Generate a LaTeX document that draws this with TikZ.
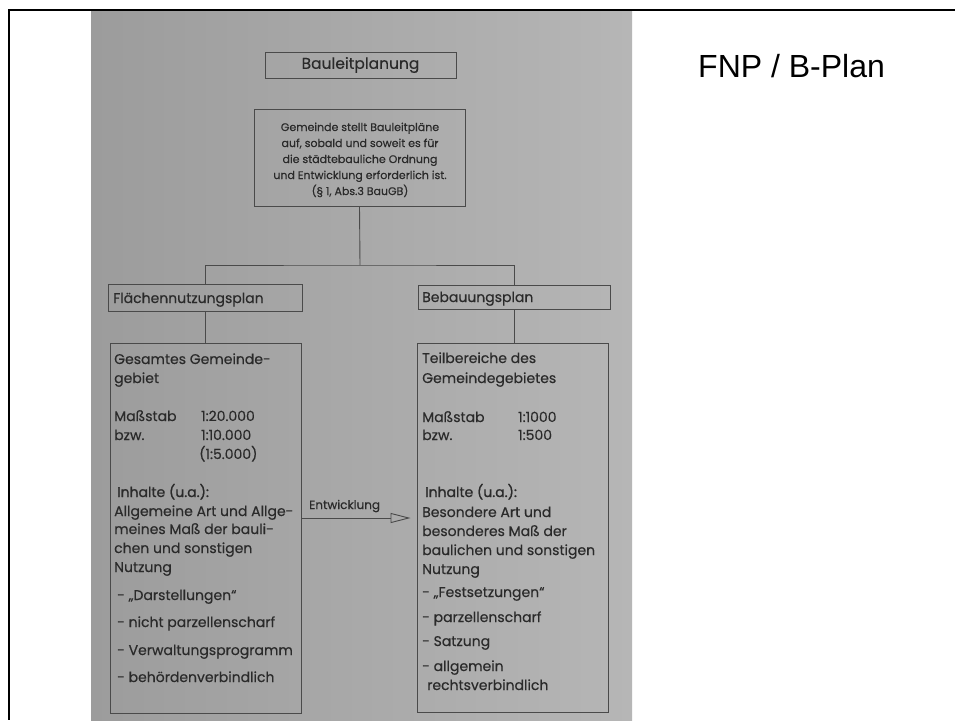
\documentclass[tikz,border=0pt]{standalone}
\usepackage{fontspec}
\setmainfont{Poppins}[FakeBold=0.4]
\newfontfamily\inhfont{Poppins}[FakeBold=1.2]
\newfontfamily\slidefont{Liberation Sans}
\usetikzlibrary{arrows.meta,calc}
\definecolor{ink}{HTML}{2A2A2A}
\definecolor{rule}{HTML}{4A4A4A}
\definecolor{photoL}{HTML}{9C9C9C}
\definecolor{photoM}{HTML}{BEBEBE}
\definecolor{photoR}{HTML}{B6B6B6}
\tikzset{
  box/.style={draw=rule, line width=0.9pt, inner sep=0pt},
  conn/.style={draw=rule, line width=0.9pt},
  txt/.style={anchor=base west, inner sep=0pt, text=ink, font=\fontsize{14}{19}\selectfont},
  smalltxt/.style={anchor=base, inner sep=0pt, text=ink, font=\fontsize{11}{16}\selectfont},
}
\begin{document}
\begin{tikzpicture}[x=1pt,y=-1pt]
\useasboundingbox (0,0) rectangle (955,720);
\fill[white] (0,0) rectangle (955,720);
% photo background
\shade[left color=photoL, middle color=photoM, right color=photoR] (91,11) rectangle (632,720);
% slide frame
\draw[line width=2.5pt, black] (955,10) -- (9,10) -- (9,720);
\node[anchor=base west, inner sep=0pt, font=\slidefont\fontsize{32}{36}\selectfont] (title) at (698,77) {FNP / B-Plan};

% boxes
\node[box, minimum width=191pt, minimum height=26pt] (bau) at (360.5,65) {};
\node[anchor=center, inner sep=0pt, text=ink, font=\fontsize{15.5}{17}\selectfont] (bautxt) at (360.5,65) {Bauleitplanung};

\node[box, minimum width=211pt, minimum height=97pt] (gem) at (359.5,157.5) {};
\node[smalltxt] (g1) at (360,131) {Gemeinde stellt Bauleitpläne};
\node[smalltxt] (g2) at (360,147) {auf, sobald und soweit es für};
\node[smalltxt] (g3) at (360,163) {die städtebauliche Ordnung};
\node[smalltxt] (g4) at (360,179) {und Entwicklung erforderlich ist.};
\node[smalltxt] (g5) at (360,195) {(§ 1, Abs.3 BauGB)};

\node[box, minimum width=194pt, minimum height=27pt] (fnp) at (205,297.5) {};
\node[txt] (fnptxt) at (113,303) {Flächennutzungsplan};
\node[box, minimum width=192pt, minimum height=24pt] (bpl) at (514,297) {};
\node[txt] (bpltxt) at (422,302) {Bebauungsplan};

\node[box, minimum width=191pt, minimum height=370pt] (left) at (205.5,528) {};
\node[box, minimum width=191pt, minimum height=369pt] (right) at (512.5,527.5) {};

% connectors
\coordinate (jn) at (360,265);
\draw[conn] (gem.south) -- (jn);
\draw[conn] (fnp.north) |- (jn) -| (bpl.north);
\draw[conn] (fnp.south) -- (fnp.south |- left.north);
\draw[conn] (bpl.south) -- (bpl.south |- right.north);
\draw[conn, -{Triangle[open, length=20pt, width=10pt, line width=0.9pt]}] (left.east |- 0,518) -- ([xshift=-6pt]right.west |- 0,518);
\node[anchor=base west, inner sep=0pt, text=ink, font=\fontsize{12}{14}\selectfont] (ent) at (309,509) {Entwicklung};

% left box text
\node[txt] (l1) at (114,364) {Gesamtes Gemeinde-};
\node[txt] (l2) at (114,383) {gebiet};
\node[txt] (l3) at (114,421) {Maßstab};
\node[txt] (l3b) at (201,421) {1:20.000};
\node[txt] (l4) at (114,440) {bzw.};
\node[txt] (l4b) at (201,440) {1:10.000};
\node[txt] (l5b) at (199,459) {(1:5.000)};
\node[txt, font=\inhfont\fontsize{14}{19}\selectfont] (l6) at (117,497) {Inhalte (u.a.):};
\node[txt] (l7) at (114,516) {Allgemeine Art und Allge-};
\node[txt] (l8) at (114,534) {meines Maß der bauli-};
\node[txt] (l9) at (114,553) {chen und sonstigen};
\node[txt] (l10) at (114,572) {Nutzung};
\node[txt] (l11) at (117,600) {- „Darstellungen“};
\node[txt] (l12) at (117,627) {- nicht parzellenscharf};
\node[txt] (l13) at (117,655) {- Verwaltungsprogramm};
\node[txt] (l14) at (117,682) {- behördenverbindlich};

% right box text
\node[txt] (r1) at (422,363) {Teilbereiche des};
\node[txt] (r2) at (422,383) {Gemeindegebietes};
\node[txt] (r3) at (422,422) {Maßstab};
\node[txt] (r3b) at (518,422) {1:1000};
\node[txt] (r4) at (422,440) {bzw.};
\node[txt] (r4b) at (518,440) {1:500};
\node[txt, font=\inhfont\fontsize{14}{19}\selectfont] (r6) at (425,497) {Inhalte (u.a.):};
\node[txt] (r7) at (422,517) {Besondere Art und};
\node[txt] (r8) at (422,536) {besonderes Maß der};
\node[txt] (r9) at (422,555) {baulichen und sonstigen};
\node[txt] (r10) at (422,574) {Nutzung};
\node[txt] (r11) at (422,597) {- „Festsetzungen“};
\node[txt] (r12) at (422,622) {- parzellenscharf};
\node[txt] (r13) at (422,646) {- Satzung};
\node[txt] (r14) at (422,671) {- allgemein};
\node[txt] (r15) at (427,690) {rechtsverbindlich};
\end{tikzpicture}
\end{document}
